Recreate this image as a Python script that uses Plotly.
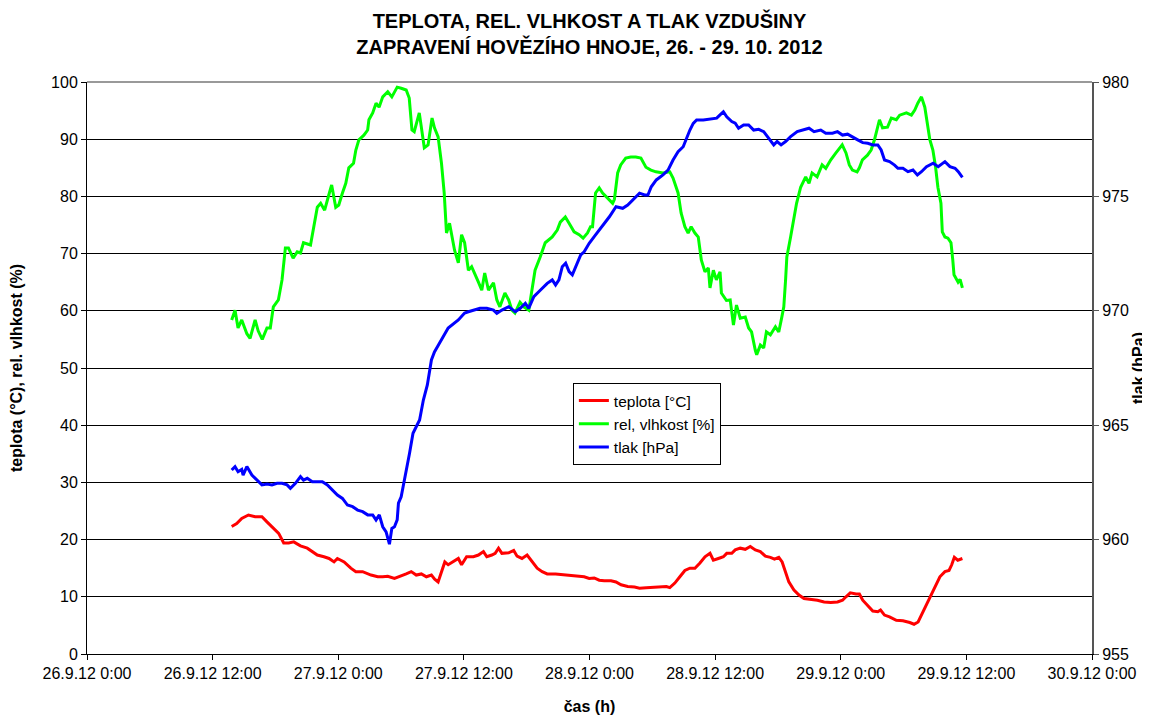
import pandas as pd
import plotly.graph_objects as go

START = pd.Timestamp("2012-09-26 00:00")

# relative humidity [%] : hours since 26.9.12 0:00, values
rh_hours = [13.82, 14.14, 14.43, 14.78, 15.27, 15.58, 16.06, 16.35, 16.74, 17.19, 17.51, 17.80, 18.28, 18.63,
            18.95, 19.24, 19.69, 20.08, 20.39, 20.68, 21.35, 21.64, 22.00, 22.32, 22.70, 23.09, 23.37, 23.76,
            24.05, 24.40, 24.72, 25.01, 25.46, 25.68, 25.97, 26.45, 26.81, 26.93, 27.29, 27.61, 27.90, 28.25,
            28.73, 29.12, 29.63, 30.01, 30.49, 30.78, 31.04, 31.26, 31.74, 32.22, 32.58, 32.96, 33.19, 33.54,
            33.86, 34.12, 34.34, 34.63, 35.11, 35.47, 35.78, 36.07, 36.43, 36.74, 37.03, 37.39, 37.71, 37.99,
            38.35, 38.83, 39.15, 39.44, 39.92, 40.28, 40.59, 40.88, 41.36, 41.72, 42.20, 42.52, 42.80, 43.29,
            43.77, 44.44, 44.92, 45.21, 45.69, 46.05, 46.53, 47.01, 47.39, 47.81, 48.10, 48.29, 48.58, 48.93,
            49.25, 49.73, 50.21, 50.38, 50.69, 50.98, 51.46, 51.94, 52.42, 52.91, 53.39, 53.87, 54.35, 55.02,
            55.67, 55.98, 56.46, 56.75, 57.11, 57.42, 57.71, 58.07, 58.39, 58.68, 59.03, 59.35, 59.51, 59.83,
            60.12, 60.47, 60.60, 61.08, 61.44, 61.75, 62.04, 62.40, 62.88, 63.20, 63.48, 63.84, 63.97, 64.32,
            64.64, 64.90, 65.28, 65.76, 66.08, 66.37, 66.56, 66.73, 66.85, 67.21, 67.53, 67.78, 68.17, 68.65,
            68.97, 69.26, 69.74, 70.22, 70.57, 71.05, 71.54, 72.02, 72.14, 72.50, 72.82, 73.11, 73.56, 73.78,
            74.07, 74.55, 74.90, 75.22, 75.48, 75.70, 75.99, 76.47, 76.83, 77.31, 77.63, 78.27, 78.75, 79.07,
            79.36, 79.71, 80.03, 80.29, 80.51, 80.80, 81.06, 81.28, 81.57, 81.70, 81.95, 82.24, 82.53, 82.70,
            82.82, 83.21, 83.40, 83.62]
rh_values = [58.4, 60.1, 57.0, 58.4, 56.0, 55.2, 58.4, 56.5, 55.0, 57.0, 57.0, 60.7, 61.9, 65.4,
             71.0, 71.0, 69.2, 70.3, 70.1, 71.9, 71.5, 74.7, 78.1, 78.8, 77.6, 80.2, 82.0, 78.1,
             78.5, 80.6, 82.3, 85.0, 85.8, 88.1, 89.9, 90.7, 91.6, 93.4, 94.6, 96.3, 95.6, 97.4,
             98.3, 97.4, 99.1, 98.9, 98.6, 97.2, 91.6, 91.3, 94.6, 88.5, 89.0, 93.7, 92.0, 90.4,
             85.8, 80.6, 73.6, 75.3, 70.6, 68.4, 73.3, 71.9, 67.1, 67.7, 66.6, 65.0, 63.6, 66.6,
             63.6, 64.9, 61.9, 60.7, 63.1, 61.9, 60.1, 59.6, 61.5, 60.7, 60.1, 64.2, 67.1, 69.4,
             71.9, 72.9, 74.1, 75.5, 76.4, 75.3, 73.8, 73.3, 72.7, 73.6, 74.7, 74.7, 80.6, 81.5,
             80.6, 79.7, 78.8, 79.5, 84.1, 85.5, 86.7, 86.9, 86.9, 86.7, 85.1, 84.6, 84.3, 84.1,
             84.3, 83.2, 80.6, 77.1, 74.7, 73.6, 74.7, 73.6, 72.9, 68.9, 66.8, 67.5, 64.0, 67.1,
             65.4, 66.8, 63.1, 61.8, 61.9, 57.5, 61.0, 58.7, 58.9, 57.0, 56.3, 53.1, 52.3, 54.0,
             53.5, 56.3, 55.8, 57.2, 56.3, 58.9, 60.7, 65.4, 69.4, 72.9, 76.4, 78.8, 81.6, 83.4,
             82.3, 84.1, 83.4, 85.5, 84.9, 86.4, 87.6, 88.6, 89.0, 87.6, 85.5, 84.6, 84.3, 85.0,
             86.4, 87.2, 88.1, 89.9, 92.1, 93.4, 92.0, 92.1, 93.7, 93.4, 94.2, 94.6, 94.2, 95.1,
             96.3, 97.4, 95.6, 92.8, 89.9, 88.1, 85.1, 81.6, 78.8, 73.8, 72.9, 72.7, 71.9, 68.9,
             66.3, 65.0, 65.5, 64.0]

# air pressure [hPa]
p_hours = [13.82, 14.14, 14.43, 14.78, 14.91, 15.27, 15.75, 16.23, 16.71, 17.19, 17.67, 18.15, 18.63, 19.11,
           19.43, 19.91, 20.39, 20.68, 21.04, 21.52, 22.00, 22.48, 22.96, 23.44, 23.92, 24.40, 24.88, 25.37,
           25.85, 26.33, 26.81, 27.29, 27.61, 27.92, 28.25, 28.57, 28.89, 29.12, 29.37, 29.63, 29.75, 30.01,
           30.33, 30.66, 30.81, 31.14, 31.45, 31.77, 32.13, 32.51, 32.90, 33.19, 33.57, 33.86, 34.50, 35.47,
           36.07, 36.43, 37.03, 37.54, 38.19, 38.83, 39.15, 39.63, 40.28, 40.91, 41.39, 41.87, 42.20, 42.68,
           43.32, 43.96, 44.44, 44.76, 45.08, 45.40, 45.72, 46.05, 46.36, 46.68, 47.16, 47.49, 47.97, 48.45,
           48.93, 49.41, 49.90, 50.53, 51.17, 51.65, 52.14, 52.78, 53.26, 53.58, 53.90, 54.38, 55.02, 55.50,
           55.98, 56.46, 56.95, 57.26, 57.59, 57.91, 58.23, 58.87, 59.51, 60.15, 60.47, 60.79, 61.11, 61.59,
           61.92, 62.24, 62.72, 63.20, 63.68, 64.16, 64.64, 65.12, 65.60, 65.92, 66.30, 66.73, 67.21, 67.84,
           68.49, 68.97, 69.45, 70.09, 70.57, 71.21, 71.69, 72.17, 72.65, 73.13, 73.62, 74.10, 74.58, 75.06,
           75.54, 75.86, 76.18, 76.66, 77.14, 77.46, 77.94, 78.42, 78.90, 79.32, 79.71, 80.19, 80.83, 81.31,
           81.95, 82.43, 82.92, 83.23, 83.62]
p_values = [963.04, 963.19, 962.97, 963.07, 962.82, 963.19, 962.82, 962.60, 962.39, 962.43, 962.39, 962.46, 962.46, 962.39,
            962.24, 962.46, 962.75, 962.60, 962.68, 962.53, 962.53, 962.53, 962.39, 962.17, 961.95, 961.80, 961.51, 961.44,
            961.29, 961.22, 961.08, 961.08, 960.86, 961.08, 960.56, 960.34, 959.80, 960.49, 960.56, 960.86, 961.59, 961.87,
            962.60, 963.33, 963.77, 964.65, 964.94, 965.23, 966.10, 966.76, 967.85, 968.20, 968.50, 968.72, 969.25, 969.60,
            969.90, 969.96, 970.03, 970.11, 970.11, 970.03, 969.89, 970.03, 970.18, 969.96, 970.11, 970.33, 970.11, 970.62,
            970.91, 971.20, 971.35, 971.13, 971.35, 971.93, 972.08, 971.71, 971.57, 971.93, 972.44, 972.58, 972.95, 973.24,
            973.53, 973.82, 974.11, 974.55, 974.48, 974.62, 974.84, 975.14, 975.06, 975.06, 975.42, 975.72, 975.94, 976.15,
            976.59, 976.95, 977.17, 977.54, 977.90, 978.19, 978.34, 978.34, 978.37, 978.42, 978.56, 978.70, 978.48, 978.27,
            978.20, 977.98, 978.12, 978.12, 977.90, 977.93, 977.83, 977.54, 977.25, 977.40, 977.25, 977.40, 977.61, 977.83,
            977.90, 977.98, 977.83, 977.90, 977.76, 977.76, 977.83, 977.68, 977.72, 977.61, 977.47, 977.35, 977.32, 977.25,
            977.25, 977.03, 976.59, 976.52, 976.37, 976.23, 976.23, 976.08, 976.15, 975.94, 976.08, 976.30, 976.45, 976.30,
            976.52, 976.30, 976.23, 976.08, 975.83]

# temperature [°C]
t_hours = [13.82, 14.30, 14.78, 15.42, 16.06, 16.71, 17.19, 17.67, 18.31, 18.79, 19.27, 19.75, 20.39, 21.04,
           21.52, 22.00, 22.63, 23.12, 23.60, 23.92, 24.56, 25.20, 25.68, 26.33, 27.13, 27.77, 28.25, 28.73,
           29.37, 30.01, 30.49, 30.97, 31.45, 31.94, 32.42, 32.90, 33.21, 33.54, 33.86, 34.18, 34.50, 34.99,
           35.47, 35.78, 36.26, 36.91, 37.39, 37.87, 38.19, 38.67, 38.99, 39.31, 39.63, 40.28, 40.76, 41.08,
           41.55, 42.04, 42.52, 43.00, 43.48, 43.96, 44.76, 45.40, 46.05, 46.84, 47.49, 47.97, 48.45, 48.93,
           49.41, 50.05, 50.53, 51.01, 51.65, 52.30, 52.78, 53.42, 54.06, 54.70, 55.34, 55.67, 56.15, 56.63,
           57.11, 57.59, 58.07, 58.55, 59.03, 59.51, 59.83, 60.31, 60.79, 61.11, 61.59, 61.92, 62.40, 62.88,
           63.36, 63.84, 64.32, 64.80, 65.28, 65.67, 66.08, 66.40, 66.73, 67.04, 67.53, 68.01, 68.49, 69.13,
           69.77, 70.41, 71.05, 71.69, 72.17, 72.50, 72.91, 73.46, 73.78, 74.10, 74.58, 75.06, 75.54, 75.80,
           76.18, 76.66, 77.31, 77.94, 78.59, 79.00, 79.39, 79.71, 80.19, 80.68, 81.16, 81.47, 81.95, 82.34,
           82.60, 82.85, 83.18, 83.62]
t_values = [22.3, 22.8, 23.7, 24.3, 24.0, 24.0, 23.1, 22.3, 21.1, 19.4, 19.4, 19.6, 18.9, 18.5,
            17.9, 17.3, 17.0, 16.7, 16.1, 16.7, 16.1, 15.0, 14.4, 14.4, 13.8, 13.5, 13.5, 13.6,
            13.2, 13.6, 14.0, 14.4, 13.8, 14.0, 13.5, 13.8, 13.1, 12.6, 14.4, 16.1, 15.6, 16.1,
            16.7, 15.6, 17.0, 17.0, 17.3, 17.9, 17.0, 17.3, 17.6, 18.5, 17.6, 17.7, 18.1, 17.1,
            16.7, 17.3, 16.1, 15.0, 14.4, 14.0, 14.0, 13.9, 13.8, 13.6, 13.5, 13.2, 13.3, 12.9,
            12.8, 12.8, 12.6, 12.1, 11.8, 11.7, 11.5, 11.6, 11.7, 11.8, 11.8, 11.6, 12.4, 13.5,
            14.6, 15.0, 15.0, 15.9, 17.0, 17.6, 16.4, 16.7, 17.0, 17.6, 17.6, 18.2, 18.5, 18.3,
            18.8, 18.2, 17.9, 17.1, 16.9, 16.6, 16.9, 16.1, 14.4, 12.6, 11.2, 10.3, 9.7, 9.6,
            9.4, 9.1, 9.0, 9.1, 9.4, 10.0, 10.7, 10.5, 10.5, 9.4, 8.4, 7.5, 7.4, 7.7,
            6.8, 6.5, 5.9, 5.8, 5.5, 5.2, 5.6, 6.8, 8.6, 10.3, 12.1, 13.5, 14.4, 14.6,
            15.6, 16.9, 16.4, 16.7]


def to_time(hours):
    return [START + pd.Timedelta(hours=h) for h in hours]


FONT = "Liberation Sans, Arial, sans-serif"
TICK_SIZE = 16
AXT_SIZE = 16

# the page places the figure 8 px in from the top-left corner of the window
W, H = 1142, 707
ML, MR, MT, MB = 79, 58, 74, 61

fig = go.Figure()
fig.add_trace(go.Scatter(x=to_time(t_hours), y=t_values, mode="lines", name="teplota [°C]",
                         line=dict(color="#FF0000", width=3)))
fig.add_trace(go.Scatter(x=to_time(rh_hours), y=rh_values, mode="lines", name="rel, vlhkost [%]",
                         line=dict(color="#00FF00", width=3)))
fig.add_trace(go.Scatter(x=to_time(p_hours), y=p_values, mode="lines", name="tlak [hPa]",
                         line=dict(color="#0000FF", width=3), yaxis="y2"))

fig.update_layout(
    width=W, height=H,
    margin=dict(l=ML, r=MR, t=MT, b=MB, autoexpand=False),
    paper_bgcolor="white", plot_bgcolor="white",
    font=dict(family=FONT, size=TICK_SIZE, color="black"),
    title=dict(text="<b>TEPLOTA, REL. VLHKOST A TLAK VZDUŠINY<br>ZAPRAVENÍ HOVĚZÍHO HNOJE, 26. - 29. 10. 2012</b>",
               x=(ML + W - MR) / 2 / W, xanchor="center", y=1 - 20 / H, yanchor="top",
               font=dict(family=FONT, size=20, color="black")),
    xaxis=dict(type="date", range=["2012-09-26 00:00", "2012-09-30 00:00"],
               tick0="2012-09-26 00:00", dtick=12 * 3600 * 1000,
               tickformat="%-d.%-m.%y %-H:%M", ticks="outside", ticklen=5, tickcolor="black",
               showline=True, linecolor="black", linewidth=1, showgrid=False, zeroline=False,
               automargin=False,
               title=dict(text="<b>čas (h)</b>", font=dict(size=AXT_SIZE), standoff=20),
               tickfont=dict(size=TICK_SIZE)),
    yaxis=dict(range=[0, 100], dtick=10, ticks="outside", ticklen=5, tickcolor="black",
               showline=True, linecolor="black", linewidth=1,
               showgrid=True, gridcolor="black", gridwidth=1, zeroline=False,
               automargin=False,
               title=dict(text="<b>teplota (°C), rel. vlhkost (%)</b>", font=dict(size=AXT_SIZE), standoff=26),
               tickfont=dict(size=TICK_SIZE)),
    yaxis2=dict(range=[955, 980], dtick=5, overlaying="y", side="right",
                ticks="outside", ticklen=5, tickcolor="#555555",
                showline=True, linecolor="#555555", linewidth=2, showgrid=False, zeroline=False,
                automargin=False, tickfont=dict(size=TICK_SIZE)),
    legend=dict(x=(569 - 87) / 997, y=(654 - 383) / 572, xanchor="left", yanchor="top",
                bgcolor="white", bordercolor="black", borderwidth=1,
                font=dict(size=15.5), tracegroupgap=0, itemwidth=30),
    showlegend=True,
)

# right axis title (placed as rotated text just right of the tick labels)
fig.add_annotation(text="<b>tlak (hPa)</b>", xref="paper", yref="paper",
                   x=(1130 - ML) / (W - ML - MR), y=0.5, xanchor="center", yanchor="middle",
                   textangle=-90, showarrow=False, font=dict(size=AXT_SIZE, color="black"))

# gray top border of plot area
fig.add_shape(type="line", xref="paper", yref="paper", x0=0, x1=1, y0=1, y1=1,
              line=dict(color="#999999", width=2))

fig.write_html("out.html")
